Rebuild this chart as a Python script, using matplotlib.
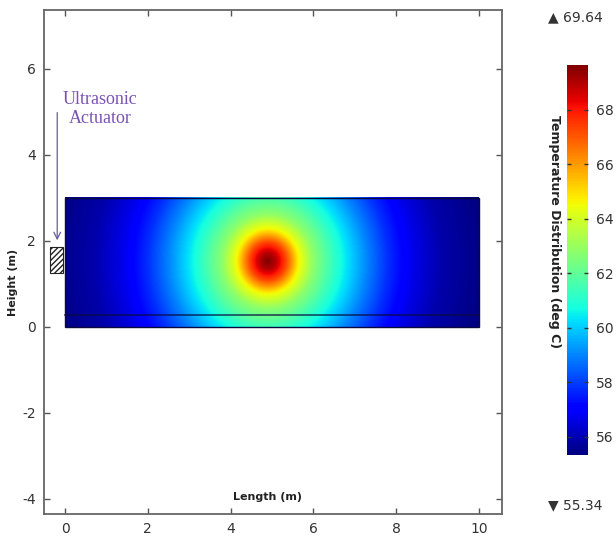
import matplotlib
matplotlib.use('Agg')
import matplotlib.pyplot as plt
import numpy as np
from matplotlib.patches import Rectangle

plt.rcParams['axes.unicode_minus'] = False

# domain and heat source
domain_x = [0.0, 10.0]
domain_y = [0.0, 3.0]
layer_y = 0.28
source_xy = [4.9, 1.52]

# temperature (deg C) vs distance from the source (m)
radius = [0.0, 0.2, 0.45, 0.75, 1.1, 1.6, 2.0, 2.4, 2.9, 3.5, 4.2, 5.2, 6.0]
temp = [69.64, 68.9, 67.2, 64.6, 62.8, 61.2, 60.1, 59.0, 57.8, 56.7, 55.9, 55.4, 55.34]
t_min, t_max = 55.34, 69.64
cb_ticks = [56, 58, 60, 62, 64, 66, 68]

# actuator block
act_x = [-0.36, -0.05]
act_y = [1.26, 1.85]

x_ticks = [0, 2, 4, 6, 8, 10]
y_ticks = [-4, -2, 0, 2, 4, 6]

fig = plt.figure(figsize=(6.16, 5.44), dpi=100)
ax = fig.add_axes([0.0714, 0.0551, 0.7435, 0.9265])

gx = np.linspace(domain_x[0], domain_x[1], 500)
gy = np.linspace(domain_y[0], domain_y[1], 150)
X, Y = np.meshgrid(gx, gy)
R = np.hypot(X - source_xy[0], Y - source_xy[1])
T = np.interp(R, radius, temp)

im = ax.imshow(T, extent=[domain_x[0], domain_x[1], domain_y[0], domain_y[1]],
               origin='lower', cmap='jet', vmin=t_min, vmax=t_max,
               aspect='auto', interpolation='bilinear')
ax.add_patch(Rectangle((domain_x[0], domain_y[0]), domain_x[1] - domain_x[0],
                       domain_y[1] - domain_y[0], fill=False, ec='#0a0a40', lw=1.0))
ax.plot(domain_x, [layer_y, layer_y], color='#0a0a40', lw=1.2, alpha=0.75)

# actuator and its label
ax.add_patch(Rectangle((act_x[0], act_y[0]), act_x[1] - act_x[0], act_y[1] - act_y[0],
                       facecolor='white', edgecolor='#222222', hatch='//////', lw=0.8))
ax.annotate('', xy=(-0.19, 1.95), xytext=(-0.19, 5.05),
            arrowprops=dict(arrowstyle='->', color='#6a5aa0', lw=0.9,
                            mutation_scale=12))
ax.text(0.85, 5.07, 'Ultrasonic\nActuator', ha='center', va='center',
        color='#7b52b5', fontsize=13, family='Liberation Serif', linespacing=1.2)

ax.set_xlim(-0.51, 10.56)
ax.set_ylim(-4.35, 7.37)
ax.set_xticks(x_ticks)
ax.set_yticks(y_ticks)
ax.tick_params(direction='in', length=4, width=1, color='#555555',
               top=True, right=True, labelsize=10, labelcolor='#333333', pad=6)
for s in ax.spines.values():
    s.set_color('#666666')
    s.set_linewidth(1.3)

ax.text(4.9, -3.95, 'Length (m)', ha='center', va='center', fontsize=8,
        fontweight='bold', color='#222222')
fig.text(13 / 616, 1 - 282 / 544, 'Height (m)', rotation=90, ha='center', va='center',
         fontsize=8, fontweight='bold', color='#222222')

# colour bar
cax = fig.add_axes([0.920, 0.1636, 0.034, 0.717])
cb = fig.colorbar(im, cax=cax, ticks=cb_ticks)
cb.outline.set_visible(False)
cax.tick_params(direction='in', length=3, width=1, color='#333333', left=True,
                right=True, labelsize=10, labelcolor='#333333', pad=6)
fig.text(555 / 616, 1 - 232 / 544, 'Temperature Distribution (deg C)', rotation=270,
         ha='center', va='center', fontsize=9, fontweight='bold', color='#222222')
fig.text(548 / 616, 1 - 17 / 544, '\u25b2 69.64', ha='left', va='center',
         fontsize=10, color='#333333')
fig.text(548 / 616, 1 - 505 / 544, '\u25bc 55.34', ha='left', va='center',
         fontsize=10, color='#333333')

fig.savefig('out.png', dpi=100)
